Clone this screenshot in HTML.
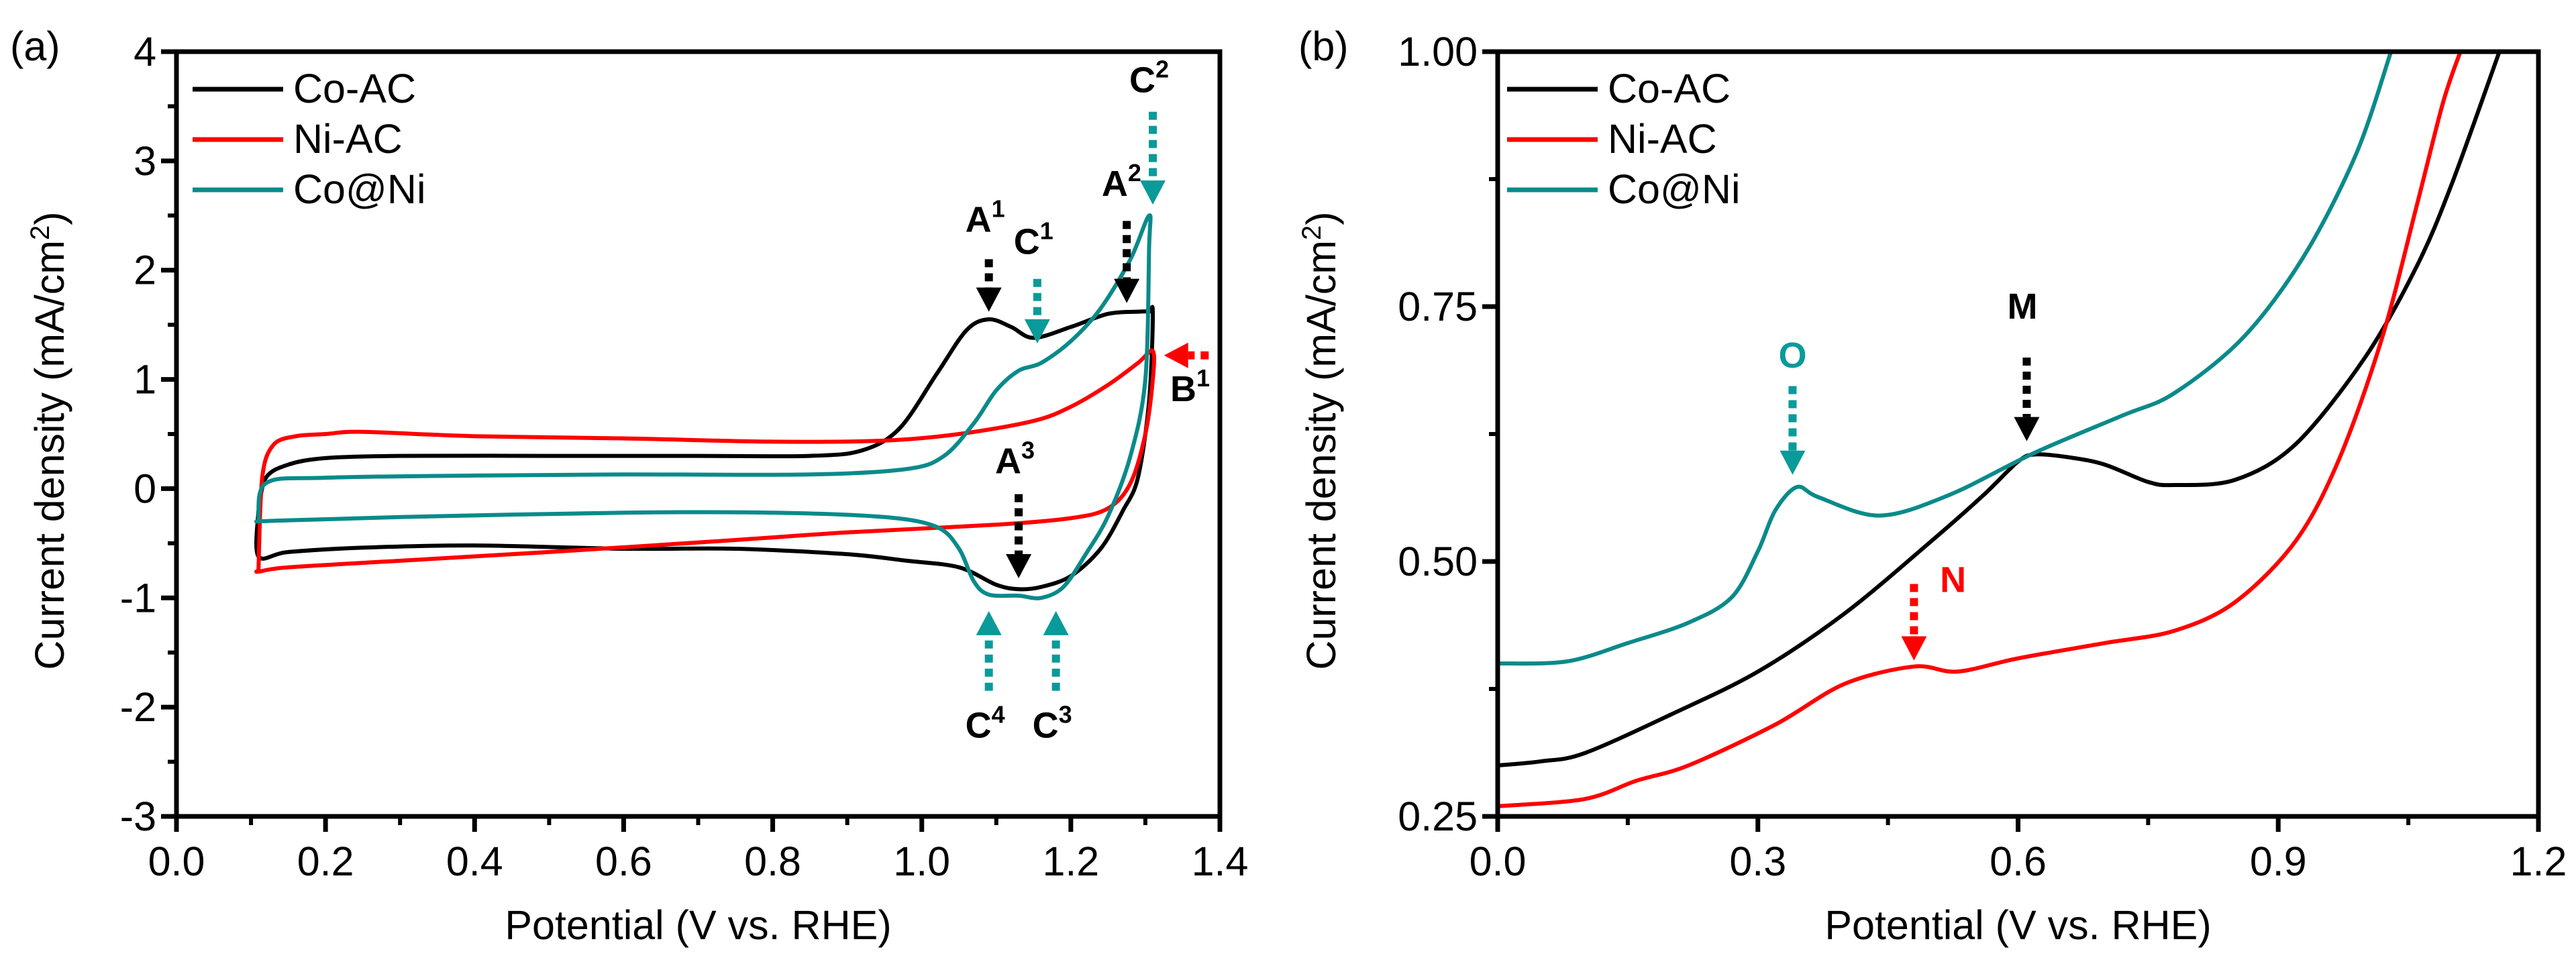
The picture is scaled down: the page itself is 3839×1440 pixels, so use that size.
<!DOCTYPE html>
<html><head><meta charset="utf-8"><style>
html,body{margin:0;padding:0;background:#fff;}
svg{display:block;font-family:"Liberation Sans",sans-serif;}
.tk{font-size:61px;fill:#000;}
.ann{font-size:54px;font-weight:bold;}
</style></head><body>
<svg id="fig" width="3839" height="1440" viewBox="0 0 3839 1440" xmlns="http://www.w3.org/2000/svg">
<g id="pa"></g>
<g id="pb"></g>
</svg>
<script>
// ---------- Panel (a) data ----------
const aCoX=[0.11,0.12,0.15,0.2,0.3,0.5,0.7,0.85,0.92,0.97,1.02,1.06,1.09,1.12,1.15,1.2,1.25,1.29,1.305,1.31,1.305,1.29,1.27,1.24,1.2,1.16,1.13,1.1,1.05,0.98,0.9,0.75,0.6,0.4,0.25,0.15,0.11,0.11];
const aCoY=[-0.2,0.1,0.22,0.28,0.3,0.3,0.3,0.3,0.35,0.55,1.05,1.45,1.55,1.48,1.38,1.48,1.6,1.62,1.62,1.6,0.8,0.1,-0.2,-0.55,-0.8,-0.9,-0.92,-0.88,-0.72,-0.66,-0.6,-0.55,-0.55,-0.52,-0.54,-0.58,-0.62,-0.2];
const aNiX=[0.11,0.115,0.13,0.16,0.2,0.25,0.4,0.6,0.8,0.95,1.05,1.15,1.2,1.25,1.29,1.31,1.31,1.3,1.28,1.25,1.2,1.1,0.9,0.75,0.5,0.3,0.15,0.11,0.11];
const aNiY=[-0.75,0.1,0.4,0.48,0.5,0.52,0.48,0.46,0.43,0.44,0.5,0.62,0.75,0.95,1.15,1.26,1.0,0.5,0.05,-0.18,-0.27,-0.33,-0.4,-0.47,-0.58,-0.66,-0.72,-0.76,-0.75];
const aCnX=[0.11,0.12,0.2,0.4,0.6,0.85,0.98,1.03,1.07,1.1,1.13,1.16,1.2,1.24,1.28,1.305,1.305,1.3,1.28,1.25,1.22,1.19,1.16,1.13,1.09,1.07,1.05,1.02,0.95,0.8,0.6,0.3,0.15,0.11,0.11];
const aCnY=[-0.3,0.05,0.1,0.12,0.13,0.13,0.18,0.3,0.6,0.9,1.08,1.15,1.35,1.65,2.1,2.5,2.2,1.0,0.3,-0.25,-0.6,-0.9,-1.0,-0.98,-0.97,-0.85,-0.55,-0.35,-0.26,-0.22,-0.22,-0.26,-0.29,-0.3,-0.3];
const aXTicks=[0.0,0.2,0.4,0.6,0.8,1.0,1.2,1.4];
const aXLabels=["0.0","0.2","0.4","0.6","0.8","1.0","1.2","1.4"];
const aYTicks=[-3,-2,-1,0,1,2,3,4];
const aYLabels=["-3","-2","-1","0","1","2","3","4"];
// ---------- Panel (b) data ----------
const bCoX=[0,0.05,0.1,0.2,0.3,0.4,0.5,0.56,0.6,0.62,0.66,0.7,0.75,0.78,0.85,0.92,1.0,1.06,1.1,1.155];
const bCoY=[0.3,0.304,0.312,0.35,0.392,0.449,0.52,0.565,0.598,0.605,0.602,0.595,0.578,0.575,0.58,0.615,0.7,0.79,0.87,1.0];
const bNiX=[0,0.1,0.16,0.22,0.32,0.4,0.48,0.53,0.6,0.7,0.78,0.85,0.92,0.97,1.02,1.06,1.09,1.11];
const bNiY=[0.26,0.267,0.285,0.3,0.34,0.38,0.397,0.392,0.405,0.42,0.432,0.46,0.52,0.6,0.72,0.85,0.95,1.0];
const bCnX=[0,0.08,0.15,0.22,0.27,0.3,0.32,0.345,0.37,0.44,0.52,0.62,0.72,0.78,0.86,0.93,0.99,1.03];
const bCnY=[0.4,0.402,0.42,0.44,0.465,0.51,0.55,0.573,0.563,0.545,0.565,0.607,0.643,0.665,0.72,0.8,0.9,1.0];
const bXTicks=[0,0.3,0.6,0.9,1.2];
const bXLabels=["0.0","0.3","0.6","0.9","1.2"];
const bYTicks=[0.25,0.5,0.75,1.0];
const bYLabels=["0.25","0.50","0.75","1.00"];
const seriesNames=["Co-AC","Ni-AC","Co@Ni"];
const colors=["#000000","#ff0000","#0a8a8a"];

const NS="http://www.w3.org/2000/svg";
function mk(parent,tag,attrs){const e=document.createElementNS(NS,tag);for(const k in attrs)e.setAttribute(k,attrs[k]);parent.appendChild(e);return e;}
function smooth(pts){let d="M"+pts[0][0]+","+pts[0][1];for(let i=0;i<pts.length-1;i++){const p0=pts[Math.max(0,i-1)],p1=pts[i],p2=pts[i+1],p3=pts[Math.min(pts.length-1,i+2)];const t=0.16;d+=" C"+(p1[0]+(p2[0]-p0[0])*t)+","+(p1[1]+(p2[1]-p0[1])*t)+" "+(p2[0]-(p3[0]-p1[0])*t)+","+(p2[1]-(p3[1]-p1[1])*t)+" "+p2[0]+","+p2[1];}return d;}

function panel(g,o){
  const X=v=>o.x0+(v-o.xmin)/(o.xmax-o.xmin)*(o.x1-o.x0);
  const Y=v=>o.y1-(v-o.ymin)/(o.ymax-o.ymin)*(o.y1-o.y0);
  o.series.forEach((s,i)=>{
    const pts=s.x.map((v,j)=>[X(v),Y(s.y[j])]);
    const p=mk(g,"path",{d:smooth(pts),fill:"none",stroke:colors[i],"stroke-width":6,"stroke-linejoin":"round"});
    
    
  });
  const fr=mk(g,"rect",{x:o.x0,y:o.y0,width:o.x1-o.x0,height:o.y1-o.y0,fill:"none",stroke:"#000","stroke-width":7});
  
  
  o.xt.forEach((v,i)=>{
    mk(g,"line",{x1:X(v),x2:X(v),y1:o.y1,y2:o.y1+23,stroke:"#000","stroke-width":7});
    const t=mk(g,"text",{x:X(v),y:o.y1+88,"text-anchor":"middle",class:"tk"});t.textContent=o.xl[i];
    
    
  });
  o.xm.forEach(v=>mk(g,"line",{x1:X(v),x2:X(v),y1:o.y1,y2:o.y1+13,stroke:"#000","stroke-width":6}));
  o.yt.forEach((v,i)=>{
    mk(g,"line",{x1:o.x0-23,x2:o.x0,y1:Y(v),y2:Y(v),stroke:"#000","stroke-width":7});
    const t=mk(g,"text",{x:o.x0-30,y:Y(v)+21,"text-anchor":"end",class:"tk"});t.textContent=o.yl[i];
    
    
  });
  o.ym.forEach(v=>mk(g,"line",{x1:o.x0-13,x2:o.x0,y1:Y(v),y2:Y(v),stroke:"#000","stroke-width":6}));
  const xt=mk(g,"text",{x:(o.x0+o.x1)/2,y:1400,"text-anchor":"middle",class:"tk"});xt.textContent="Potential (V vs. RHE)";
  
  
  const yt=mk(g,"text",{transform:"translate("+o.ytx+","+((o.y0+o.y1)/2+10)+") rotate(-90)","text-anchor":"middle",class:"tk"});
  yt.innerHTML='Current density (mA/cm<tspan dy="-22" font-size="40">2</tspan><tspan dy="22">)</tspan>';
  
  
  const pl=mk(g,"text",{x:o.plx,y:90,class:"tk","font-size":70});pl.textContent=o.pl;
  
  
  seriesNames.forEach((n,i)=>{
    const ly=o.lgy+i*75;
    const l=mk(g,"line",{x1:o.lgx,x2:o.lgx+135,y1:ly,y2:ly,stroke:colors[i],"stroke-width":7});
    
    
    const t=mk(g,"text",{x:o.lgx+150,y:ly+20,class:"tk","font-size":56});t.textContent=n;
    
    
  });
  o.ann.forEach(a=>{
    const c=a.c;
    const x1=X(a.ax1),y1=Y(a.ay1),x2=X(a.ax2),y2=Y(a.ay2);
    const dx=x2-x1,dy=y2-y1,L=Math.hypot(dx,dy),ux=dx/L,uy=dy/L,h=36;
    mk(g,"line",{x1:x1,y1:y1,x2:x2-ux*h,y2:y2-uy*h,stroke:c,"stroke-width":12,"stroke-dasharray":"12 9"});
    const ar=mk(g,"polygon",{points:[x2,y2,x2-ux*h-uy*19,y2-uy*h+ux*19,x2-ux*h+uy*19,y2-uy*h-ux*19].join(","),fill:c});
    
    
    const t=mk(g,"text",{x:X(a.lx),y:Y(a.ly),"text-anchor":"middle",class:"ann",fill:a.lc||"#000"});
    t.innerHTML=a.t+(a.s?'<tspan dy="-22" font-size="36">'+a.s+'</tspan>':'');
    
    
  });
}
const K="#000",T="#0a9a9a",R="#ff0000";
panel(document.getElementById("pa"),{x0:263,x1:1818,y0:77,y1:1217,xmin:0,xmax:1.4,ymin:-3,ymax:4,
 series:[{x:aCoX,y:aCoY},{x:aNiX,y:aNiY},{x:aCnX,y:aCnY}],
 xt:aXTicks,xl:aXLabels,xm:[0.1,0.3,0.5,0.7,0.9,1.1,1.3],yt:aYTicks,yl:aYLabels,ym:[-2.5,-1.5,-0.5,0.5,1.5,2.5,3.5],
 ytx:95,plx:15,pl:"(a)",lgx:287,lgy:133,
 ann:[{ax1:1.09,ay1:2.1,ax2:1.09,ay2:1.62,c:K,t:"A",s:"1",lx:1.085,ly:2.35},
      {ax1:1.155,ay1:1.92,ax2:1.155,ay2:1.33,c:T,t:"C",s:"1",lx:1.15,ly:2.15,lc:K},
      {ax1:1.275,ay1:2.45,ax2:1.275,ay2:1.7,c:K,t:"A",s:"2",lx:1.268,ly:2.68},
      {ax1:1.31,ay1:3.45,ax2:1.31,ay2:2.6,c:T,t:"C",s:"2",lx:1.305,ly:3.63,lc:K},
      {ax1:1.385,ay1:1.22,ax2:1.325,ay2:1.22,c:R,t:"B",s:"1",lx:1.36,ly:0.8},
      {ax1:1.13,ay1:-0.05,ax2:1.13,ay2:-0.82,c:K,t:"A",s:"3",lx:1.125,ly:0.14},
      {ax1:1.09,ay1:-1.85,ax2:1.09,ay2:-1.12,c:T,t:"C",s:"4",lx:1.085,ly:-2.28,lc:K},
      {ax1:1.18,ay1:-1.85,ax2:1.18,ay2:-1.12,c:T,t:"C",s:"3",lx:1.175,ly:-2.28,lc:K}]});
panel(document.getElementById("pb"),{x0:2232,x1:3783,y0:77,y1:1217,xmin:0,xmax:1.2,ymin:0.25,ymax:1.0,
 series:[{x:bCoX,y:bCoY},{x:bNiX,y:bNiY},{x:bCnX,y:bCnY}],
 xt:bXTicks,xl:bXLabels,xm:[0.15,0.45,0.75,1.05],yt:bYTicks,yl:bYLabels,ym:[0.375,0.625,0.875],
 ytx:1990,plx:1935,pl:"(b)",lgx:2246,lgy:133,
 ann:[{ax1:0.34,ay1:0.672,ax2:0.34,ay2:0.585,c:T,t:"O",lx:0.34,ly:0.69,lc:T},
      {ax1:0.61,ay1:0.7,ax2:0.61,ay2:0.618,c:K,t:"M",lx:0.605,ly:0.738},
      {ax1:0.48,ay1:0.478,ax2:0.48,ay2:0.403,c:R,t:"N",lx:0.525,ly:0.47,lc:R}]});
</script>
</body></html>
